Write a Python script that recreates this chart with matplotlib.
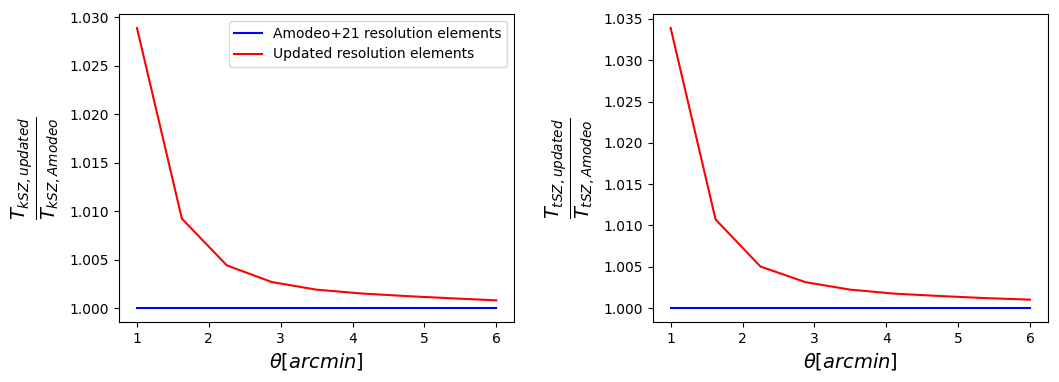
import numpy as np
import matplotlib
matplotlib.use("Agg")
import matplotlib.pyplot as plt

theta = [1.0, 1.625, 2.25, 2.875, 3.5, 4.125, 4.75, 5.375, 6.0]
ksz_amodeo = [1.0] * 9
ksz_updated = [1.0289, 1.00922, 1.00440, 1.00268, 1.00189, 1.00150, 1.00123, 1.00100, 1.00079]
tsz_amodeo = [1.0] * 9
tsz_updated = [1.03390, 1.01072, 1.00502, 1.00313, 1.00222, 1.00173, 1.00145, 1.00120, 1.00101]

fig, axes = plt.subplots(1, 2, figsize=(10.59, 3.82), dpi=100)
fig.subplots_adjust(left=119/1059, right=1048/1059, top=1-14/382, bottom=1-322/382, wspace=0.35)

ax = axes[0]
ax.plot(theta, ksz_amodeo, color='blue', label='Amodeo+21 resolution elements')
ax.plot(theta, ksz_updated, color='red', label='Updated resolution elements')
ax.set_xlabel(r'$\theta [arcmin]$', fontsize=14)
ax.set_ylabel(r'$\frac{T_{kSZ,updated}}{T_{kSZ,Amodeo}}$', fontsize=20)
ax.legend(loc='upper right')

ax = axes[1]
ax.plot(theta, tsz_amodeo, color='blue')
ax.plot(theta, tsz_updated, color='red')
ax.set_xlabel(r'$\theta [arcmin]$', fontsize=14)
ax.set_ylabel(r'$\frac{T_{tSZ,updated}}{T_{tSZ,Amodeo}}$', fontsize=20)

fig.savefig('out.png', dpi=100)
